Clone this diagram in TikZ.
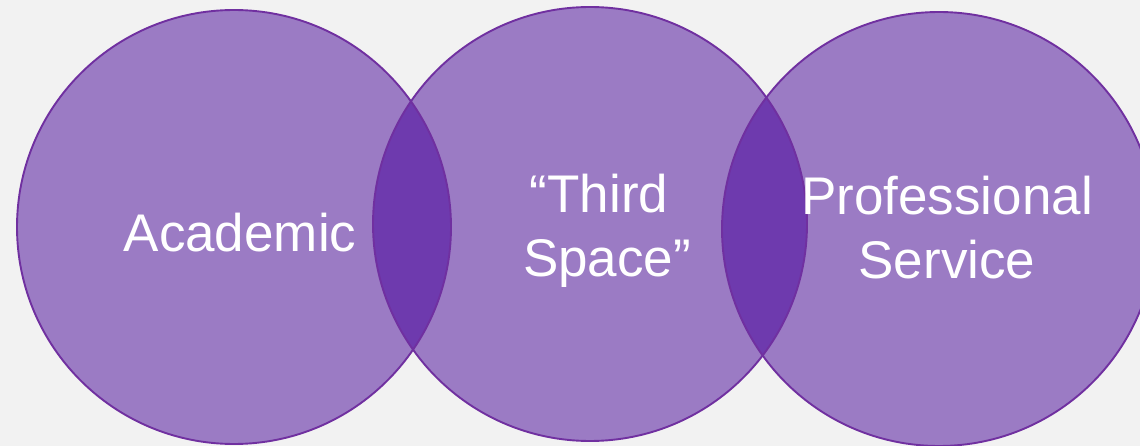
\documentclass[tikz,border=0pt]{standalone}
\usepackage{fontspec}
\setmainfont{Liberation Sans}
\usepackage{xcolor}
\usetikzlibrary{positioning}
\definecolor{bggrey}{HTML}{F2F2F2}
\definecolor{ringfill}{HTML}{9B7BC4}
\definecolor{lensfill}{HTML}{6E3AAE}
\definecolor{ringline}{HTML}{7030A0}

\begin{document}
\begin{tikzpicture}[
		x=1pt, y=-1pt,
		ring/.style={circle, fill=ringfill, minimum size=434pt, inner sep=0pt},
		rim/.style={draw=ringline, line width=1.9pt},
		lens/.style={fill=lensfill},
		lbl/.style={text=white, font=\fontsize{53}{64}\selectfont, align=center}]

	% Background
	\useasboundingbox (0,0) rectangle (1140,446);
	\fill[bggrey] (0,0) rectangle (1140,446);

	% Circles
	\node[ring] (acad)  at (234,227) {};
	\node[ring] (third) at (590,224) {};
	\node[ring] (prof)  at (939,229) {};

	% Overlaps
	\begin{scope}
		\clip (acad.center) circle[radius=217pt];
		\fill[lens] (third.center) circle[radius=217pt];
	\end{scope}
	\begin{scope}
		\clip (third.center) circle[radius=217pt];
		\fill[lens] (prof.center) circle[radius=217pt];
	\end{scope}

	% Outlines
	\foreach \c in {acad,third,prof}
		\draw[rim] (\c.center) circle[radius=217pt];

	% Labels
	\node[lbl] (acadtxt)  at (240,233) {Academic};
	\node[lbl] (thirdtxt) at (607,231) {“Third\hspace*{16pt}\\Space”};
	\node[lbl] (proftxt)  at (947,228) {Professional\\Service};

\end{tikzpicture}
\end{document}
